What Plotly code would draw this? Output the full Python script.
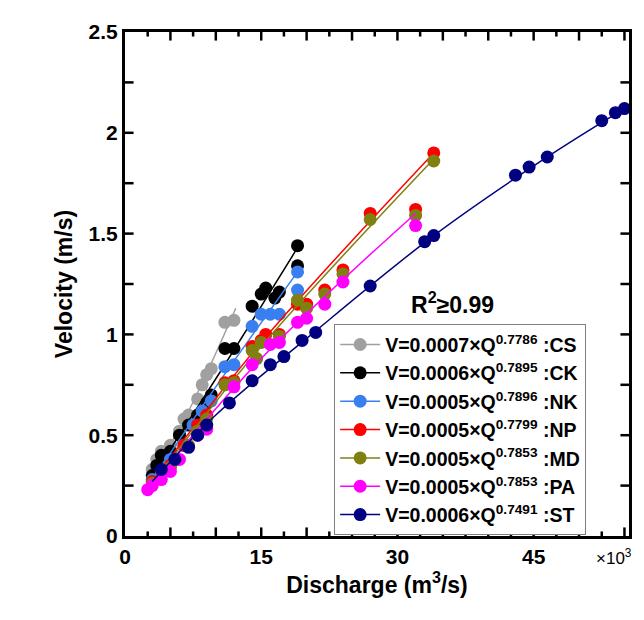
import plotly.graph_objects as go

# discharge in thousands of m3/s, velocity in m/s
cs_q = [3, 3.5, 4, 5, 6, 6.5, 7, 8, 8.5, 9, 9.5, 11, 12]
cs_v = [0.33, 0.38, 0.42, 0.45, 0.52, 0.58, 0.6, 0.68, 0.75, 0.8, 0.83, 1.06, 1.07]
ck_q = [3, 3.5, 4, 5, 6, 7, 8, 9, 9.5, 11, 12, 14, 15, 15.5, 16.5, 17, 19, 19]
ck_v = [0.3, 0.35, 0.4, 0.42, 0.5, 0.55, 0.6, 0.66, 0.7, 0.93, 0.93, 1.14, 1.2, 1.23, 1.18, 1.21, 1.44, 1.34]
nk_q = [3, 4, 5, 6.5, 7.5, 8.5, 9.5, 11, 12, 14, 15, 16, 17, 19, 19]
nk_v = [0.28, 0.32, 0.38, 0.45, 0.55, 0.62, 0.67, 0.84, 0.85, 1.04, 1.1, 1.1, 1.1, 1.31, 1.22]
np_q = [3, 5, 6.5, 8, 9, 11, 12, 14, 15, 15.5, 17, 19, 20, 22, 24, 27, 32, 34]
np_v = [0.27, 0.35, 0.45, 0.55, 0.6, 0.76, 0.77, 0.94, 0.97, 1.0, 1.0, 1.15, 1.15, 1.22, 1.32, 1.6, 1.62, 1.9]
md_q = [3, 5, 7, 8, 9, 11, 12, 14, 14.5, 15, 17, 19, 20, 22, 24, 27, 32, 34]
md_v = [0.26, 0.34, 0.45, 0.52, 0.58, 0.75, 0.76, 0.92, 0.88, 0.96, 0.99, 1.17, 1.13, 1.2, 1.3, 1.57, 1.59, 1.86]
pa_q = [2.5, 3, 4, 5, 6, 8, 9, 12, 14, 16, 17, 19, 20, 22, 24, 32]
pa_v = [0.23, 0.25, 0.28, 0.32, 0.38, 0.5, 0.53, 0.74, 0.85, 0.95, 0.96, 1.06, 1.08, 1.15, 1.26, 1.54]
st_q = [4, 5.5, 7, 8, 9, 11.5, 14, 16, 17.5, 19.5, 21, 27, 33, 34, 43, 44.5, 46.5, 52.5, 54, 55]
st_v = [0.33, 0.38, 0.44, 0.5, 0.55, 0.66, 0.77, 0.85, 0.89, 0.97, 1.01, 1.24, 1.46, 1.49, 1.79, 1.83, 1.88, 2.06, 2.1, 2.12]

# fitted curves, read as a few vertices
fit_q = {"CS": [3, 7, 12.2], "CK": [2.8, 10, 19], "NK": [3, 10, 19], "NP": [3, 15, 34],
         "MD": [3, 15, 34], "PA": [2.5, 15, 32], "ST": [3, 10, 20, 34, 46.5, 55]}
fit_v = {"CS": [0.3, 0.62, 1.13], "CK": [0.28, 0.78, 1.43], "NK": [0.28, 0.74, 1.31],
         "NP": [0.27, 0.96, 1.9], "MD": [0.26, 0.94, 1.87], "PA": [0.23, 0.88, 1.6],
         "ST": [0.27, 0.6, 0.98, 1.49, 1.88, 2.12]}

series = [
    ("CS", "0.0007", "0.7786", cs_q, cs_v, "#a0a0a0"),
    ("CK", "0.0006", "0.7895", ck_q, ck_v, "#000000"),
    ("NK", "0.0005", "0.7896", nk_q, nk_v, "#3a7ff0"),
    ("NP", "0.0005", "0.7799", np_q, np_v, "#ff0000"),
    ("MD", "0.0005", "0.7853", md_q, md_v, "#808010"),
    ("PA", "0.0005", "0.7853", pa_q, pa_v, "#ff00ff"),
    ("ST", "0.0006", "0.7491", st_q, st_v, "#000080"),
]

x_labels = [0, 15, 30, 45]
x_major = [5, 10, 15, 20, 25, 30, 35, 40, 45, 50, 55]
x_minor = [2.5, 7.5, 12.5, 17.5, 22.5, 27.5, 32.5, 37.5, 42.5, 47.5, 52.5]
y_labels = [0, 0.5, 1, 1.5, 2, 2.5]
y_major = [0.25, 0.5, 0.75, 1, 1.25, 1.5, 1.75, 2, 2.25]

fig = go.Figure()
for code, a, b, q, v, col in series:
    fig.add_trace(go.Scatter(x=fit_q[code], y=fit_v[code], mode="lines",
                             line=dict(color=col, width=1.5, shape="spline"), showlegend=False))
    fig.add_trace(go.Scatter(x=q, y=v, mode="markers", marker=dict(color=col, size=13),
                             showlegend=False))
    fig.add_trace(go.Scatter(x=[None], y=[None], mode="lines+markers",
                             line=dict(color=col, width=1.5), marker=dict(color=col, size=13),
                             name=f"<b>V={a}×Q<sup>{b}</sup> :{code}</b>"))

# inside tick marks on all four sides
tick = dict(type="line", line=dict(color="black", width=2.5), layer="above")
for t in x_major:
    fig.add_shape(xref="x", yref="paper", x0=t, x1=t, y0=0, y1=0.017, **tick)
    fig.add_shape(xref="x", yref="paper", x0=t, x1=t, y0=1, y1=0.983, **tick)
for t in x_minor:
    fig.add_shape(xref="x", yref="paper", x0=t, x1=t, y0=0, y1=0.009, **tick)
    fig.add_shape(xref="x", yref="paper", x0=t, x1=t, y0=1, y1=0.991, **tick)
for t in y_major:
    fig.add_shape(xref="paper", yref="y", x0=0, x1=0.017, y0=t, y1=t, **tick)
    fig.add_shape(xref="paper", yref="y", x0=1, x1=0.983, y0=t, y1=t, **tick)

fig.add_annotation(x=0.65, y=0.463, xref="paper", yref="paper", showarrow=False,
                   text="<b>R<sup>2</sup>≥0.99</b>", font=dict(size=23, color="black"))
fig.add_annotation(x=1.01, y=-0.015, xref="paper", yref="paper", showarrow=False,
                   xanchor="right", yanchor="top", text="×10<sup>3</sup>",
                   font=dict(size=17, color="black"))

fig.update_layout(
    xaxis=dict(range=[0, 55.5], tickvals=x_labels, ticktext=[f"<b>{t}</b>" for t in x_labels],
               showgrid=False, zeroline=False, showline=True, linecolor="black", linewidth=3,
               mirror=True, ticks="", tickfont=dict(size=21, color="black"),
               title=dict(text="<b>Discharge (m<sup>3</sup>/s)</b>", font=dict(size=23), standoff=4)),
    yaxis=dict(range=[0, 2.5], tickvals=y_labels, ticktext=[f"<b>{t:g}</b>" for t in y_labels],
               showgrid=False, zeroline=False, showline=True, linecolor="black", linewidth=3,
               mirror=True, ticks="", tickfont=dict(size=21, color="black"),
               title=dict(text="<b>Velocity (m/s)</b>", font=dict(size=23), standoff=10)),
    width=636, height=612, plot_bgcolor="white", paper_bgcolor="white",
    font=dict(family="Liberation Sans", color="black", size=20),
    margin=dict(l=117, r=12, t=12, b=84),
    legend=dict(x=0.415, y=0.42, xanchor="left", yanchor="top", bgcolor="white",
                bordercolor="#808080", borderwidth=1, font=dict(size=19.5), tracegroupgap=0,
                itemwidth=40),
)
fig.write_html("out.html")
